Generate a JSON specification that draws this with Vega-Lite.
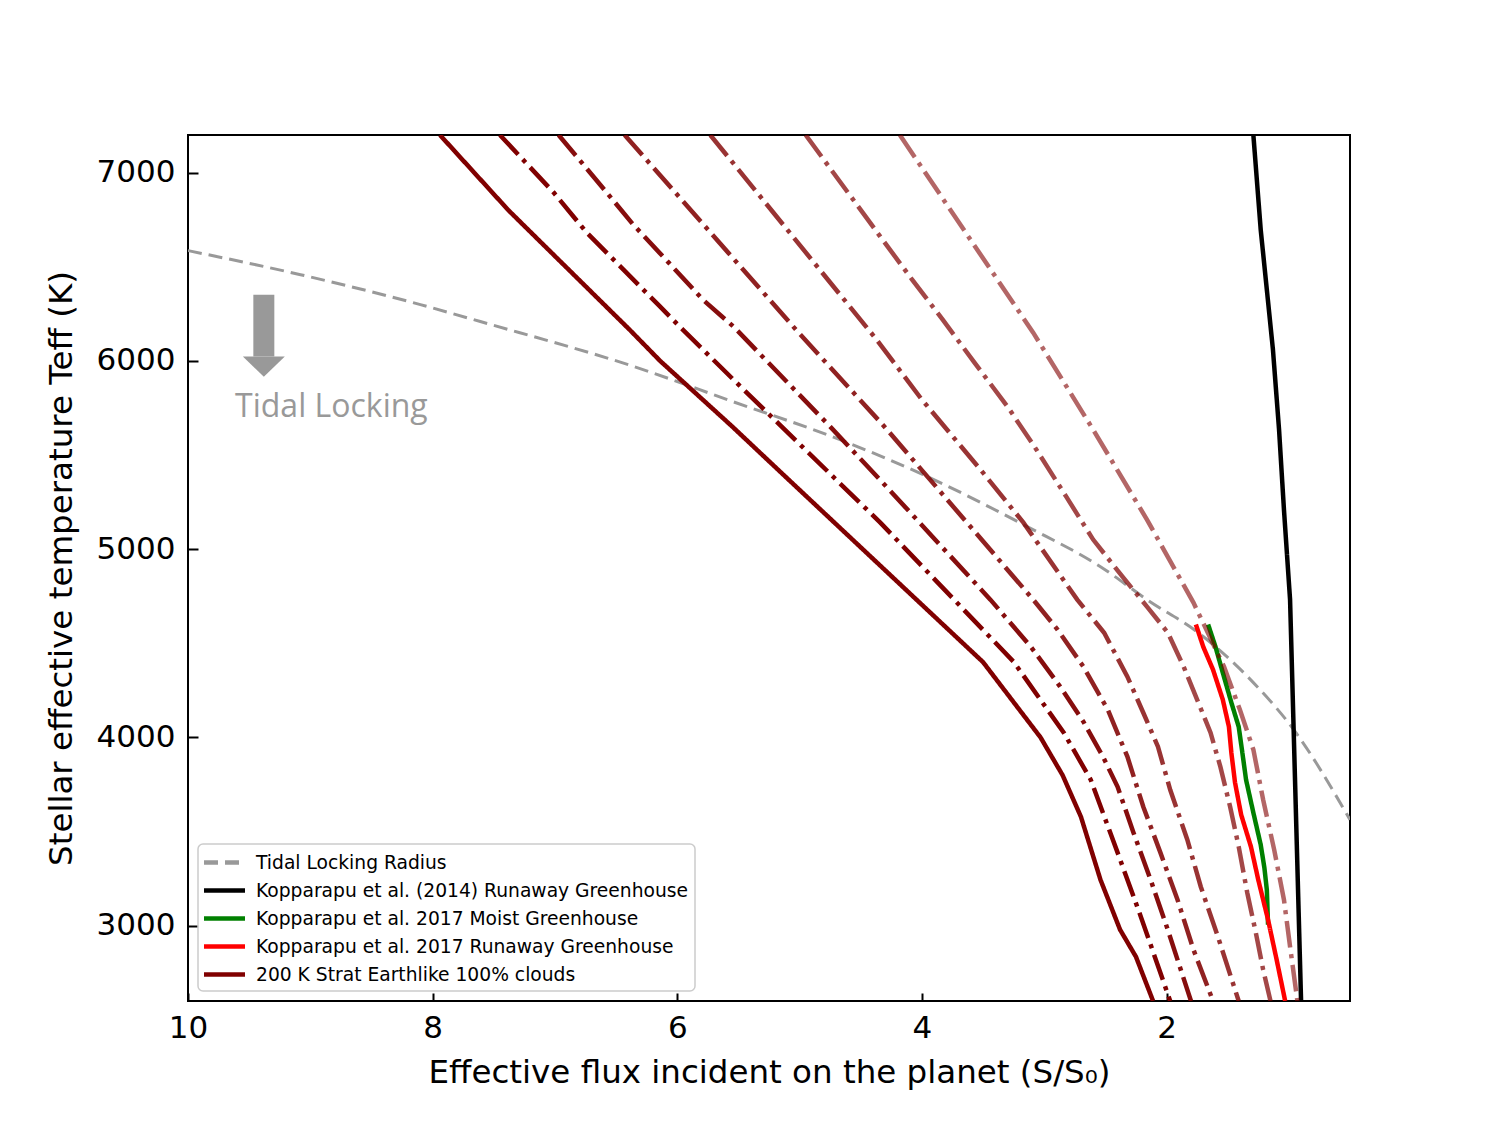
{
  "$schema": "https://vega.github.io/schema/vega-lite/v6.json",
  "width": 1162,
  "height": 866,
  "autosize": {"type": "none"},
  "padding": {"left": 188, "top": 135, "right": 150, "bottom": 124},
  "background": "white",
  "config": {
    "view": {"stroke": "black", "strokeWidth": 2},
    "font": "DejaVu Sans",
    "axis": {
      "grid": false, "domain": false, "tickColor": "black", "tickWidth": 2,
      "labelFont": "DejaVu Sans", "labelFontSize": 31, "labelColor": "black",
      "titleFont": "DejaVu Sans", "titleFontSize": 32.5, "titleFontWeight": "normal", "titleColor": "black"
    },
    "legend": {
      "orient": "bottom-left", "offset": 10, "padding": 6,
      "strokeColor": "#cccccc", "strokeWidth": 1.5, "fillColor": "rgba(255,255,255,0.8)", "cornerRadius": 5,
      "labelFont": "DejaVu Sans", "labelFontSize": 18.7, "labelColor": "black", "labelLimit": 600,
      "symbolType": "M-2,0L2,0", "symbolSize": 420, "symbolStrokeWidth": 4.5, "symbolOffset": 8,
      "labelOffset": 19, "rowPadding": 5
    }
  },
  "datasets": {
    "curves": [
      {"series": "Tidal Locking Radius", "i": 0, "flux": 10.0, "teff": 6586},
      {"series": "Tidal Locking Radius", "i": 1, "flux": 9.08, "teff": 6458},
      {"series": "Tidal Locking Radius", "i": 2, "flux": 8.10, "teff": 6299},
      {"series": "Tidal Locking Radius", "i": 3, "flux": 7.61, "teff": 6209},
      {"series": "Tidal Locking Radius", "i": 4, "flux": 6.28, "teff": 5954},
      {"series": "Tidal Locking Radius", "i": 5, "flux": 5.59, "teff": 5794},
      {"series": "Tidal Locking Radius", "i": 6, "flux": 4.67, "teff": 5582},
      {"series": "Tidal Locking Radius", "i": 7, "flux": 3.99, "teff": 5396},
      {"series": "Tidal Locking Radius", "i": 8, "flux": 3.14, "teff": 5120},
      {"series": "Tidal Locking Radius", "i": 9, "flux": 2.54, "teff": 4907},
      {"series": "Tidal Locking Radius", "i": 10, "flux": 2.16, "teff": 4732},
      {"series": "Tidal Locking Radius", "i": 11, "flux": 1.72, "teff": 4546},
      {"series": "Tidal Locking Radius", "i": 12, "flux": 1.29, "teff": 4291},
      {"series": "Tidal Locking Radius", "i": 13, "flux": 0.96, "teff": 4041},
      {"series": "Tidal Locking Radius", "i": 14, "flux": 0.50, "teff": 3563},

      {"series": "Kopparapu et al. (2014) Runaway Greenhouse", "i": 0, "flux": 1.29, "teff": 7200},
      {"series": "Kopparapu et al. (2014) Runaway Greenhouse", "i": 1, "flux": 1.23, "teff": 6697},
      {"series": "Kopparapu et al. (2014) Runaway Greenhouse", "i": 2, "flux": 1.18, "teff": 6379},
      {"series": "Kopparapu et al. (2014) Runaway Greenhouse", "i": 3, "flux": 1.13, "teff": 6060},
      {"series": "Kopparapu et al. (2014) Runaway Greenhouse", "i": 4, "flux": 1.08, "teff": 5635},
      {"series": "Kopparapu et al. (2014) Runaway Greenhouse", "i": 5, "flux": 1.04, "teff": 5210},
      {"series": "Kopparapu et al. (2014) Runaway Greenhouse", "i": 6, "flux": 0.99, "teff": 4732},
      {"series": "Kopparapu et al. (2014) Runaway Greenhouse", "i": 7, "flux": 0.96, "teff": 4025},
      {"series": "Kopparapu et al. (2014) Runaway Greenhouse", "i": 8, "flux": 0.93, "teff": 3313},
      {"series": "Kopparapu et al. (2014) Runaway Greenhouse", "i": 9, "flux": 0.90, "teff": 2600},

      {"series": "Kopparapu et al. 2017 Moist Greenhouse", "i": 0, "flux": 1.66, "teff": 4600},
      {"series": "Kopparapu et al. 2017 Moist Greenhouse", "i": 1, "flux": 1.60, "teff": 4482},
      {"series": "Kopparapu et al. 2017 Moist Greenhouse", "i": 2, "flux": 1.54, "teff": 4344},
      {"series": "Kopparapu et al. 2017 Moist Greenhouse", "i": 3, "flux": 1.47, "teff": 4185},
      {"series": "Kopparapu et al. 2017 Moist Greenhouse", "i": 4, "flux": 1.41, "teff": 4057},
      {"series": "Kopparapu et al. 2017 Moist Greenhouse", "i": 5, "flux": 1.38, "teff": 3919},
      {"series": "Kopparapu et al. 2017 Moist Greenhouse", "i": 6, "flux": 1.35, "teff": 3776},
      {"series": "Kopparapu et al. 2017 Moist Greenhouse", "i": 7, "flux": 1.29, "teff": 3600},
      {"series": "Kopparapu et al. 2017 Moist Greenhouse", "i": 8, "flux": 1.23, "teff": 3430},
      {"series": "Kopparapu et al. 2017 Moist Greenhouse", "i": 9, "flux": 1.20, "teff": 3308},
      {"series": "Kopparapu et al. 2017 Moist Greenhouse", "i": 10, "flux": 1.18, "teff": 3191},
      {"series": "Kopparapu et al. 2017 Moist Greenhouse", "i": 11, "flux": 1.17, "teff": 3005},

      {"series": "Kopparapu et al. 2017 Runaway Greenhouse", "i": 0, "flux": 1.76, "teff": 4600},
      {"series": "Kopparapu et al. 2017 Runaway Greenhouse", "i": 1, "flux": 1.70, "teff": 4482},
      {"series": "Kopparapu et al. 2017 Runaway Greenhouse", "i": 2, "flux": 1.62, "teff": 4360},
      {"series": "Kopparapu et al. 2017 Runaway Greenhouse", "i": 3, "flux": 1.54, "teff": 4201},
      {"series": "Kopparapu et al. 2017 Runaway Greenhouse", "i": 4, "flux": 1.49, "teff": 4057},
      {"series": "Kopparapu et al. 2017 Runaway Greenhouse", "i": 5, "flux": 1.47, "teff": 3919},
      {"series": "Kopparapu et al. 2017 Runaway Greenhouse", "i": 6, "flux": 1.44, "teff": 3760},
      {"series": "Kopparapu et al. 2017 Runaway Greenhouse", "i": 7, "flux": 1.39, "teff": 3590},
      {"series": "Kopparapu et al. 2017 Runaway Greenhouse", "i": 8, "flux": 1.31, "teff": 3420},
      {"series": "Kopparapu et al. 2017 Runaway Greenhouse", "i": 9, "flux": 1.25, "teff": 3244},
      {"series": "Kopparapu et al. 2017 Runaway Greenhouse", "i": 10, "flux": 1.17, "teff": 3032},
      {"series": "Kopparapu et al. 2017 Runaway Greenhouse", "i": 11, "flux": 1.10, "teff": 2820},
      {"series": "Kopparapu et al. 2017 Runaway Greenhouse", "i": 12, "flux": 1.03, "teff": 2600},

      {"series": "200 K Strat Earthlike 100% clouds", "i": 0, "flux": 7.94, "teff": 7200},
      {"series": "200 K Strat Earthlike 100% clouds", "i": 1, "flux": 7.66, "teff": 7000},
      {"series": "200 K Strat Earthlike 100% clouds", "i": 2, "flux": 7.38, "teff": 6800},
      {"series": "200 K Strat Earthlike 100% clouds", "i": 3, "flux": 6.39, "teff": 6166},
      {"series": "200 K Strat Earthlike 100% clouds", "i": 4, "flux": 6.14, "teff": 6000},
      {"series": "200 K Strat Earthlike 100% clouds", "i": 5, "flux": 5.55, "teff": 5651},
      {"series": "200 K Strat Earthlike 100% clouds", "i": 6, "flux": 5.14, "teff": 5400},
      {"series": "200 K Strat Earthlike 100% clouds", "i": 7, "flux": 3.50, "teff": 4400},
      {"series": "200 K Strat Earthlike 100% clouds", "i": 8, "flux": 3.03, "teff": 4000},
      {"series": "200 K Strat Earthlike 100% clouds", "i": 9, "flux": 2.85, "teff": 3800},
      {"series": "200 K Strat Earthlike 100% clouds", "i": 10, "flux": 2.70, "teff": 3579},
      {"series": "200 K Strat Earthlike 100% clouds", "i": 11, "flux": 2.54, "teff": 3244},
      {"series": "200 K Strat Earthlike 100% clouds", "i": 12, "flux": 2.38, "teff": 2979},
      {"series": "200 K Strat Earthlike 100% clouds", "i": 13, "flux": 2.25, "teff": 2835},
      {"series": "200 K Strat Earthlike 100% clouds", "i": 14, "flux": 2.11, "teff": 2600}
    ],
    "strat": [
      {"curve": "L2", "i": 0, "flux": 7.45, "teff": 7200},
      {"curve": "L2", "i": 1, "flux": 7.30, "teff": 7096},
      {"curve": "L2", "i": 2, "flux": 7.01, "teff": 6894},
      {"curve": "L2", "i": 3, "flux": 6.74, "teff": 6681},
      {"curve": "L2", "i": 4, "flux": 6.44, "teff": 6485},
      {"curve": "L2", "i": 5, "flux": 6.14, "teff": 6288},
      {"curve": "L2", "i": 6, "flux": 5.98, "teff": 6182},
      {"curve": "L2", "i": 7, "flux": 5.54, "teff": 5900},
      {"curve": "L2", "i": 8, "flux": 5.18, "teff": 5672},
      {"curve": "L2", "i": 9, "flux": 4.34, "teff": 5141},
      {"curve": "L2", "i": 10, "flux": 3.25, "teff": 4402},
      {"curve": "L2", "i": 11, "flux": 2.84, "teff": 4025},
      {"curve": "L2", "i": 12, "flux": 2.62, "teff": 3776},
      {"curve": "L2", "i": 13, "flux": 2.40, "teff": 3388},
      {"curve": "L2", "i": 14, "flux": 2.21, "teff": 3048},
      {"curve": "L2", "i": 15, "flux": 1.97, "teff": 2600},

      {"curve": "L3", "i": 0, "flux": 6.97, "teff": 7200},
      {"curve": "L3", "i": 1, "flux": 6.63, "teff": 6936},
      {"curve": "L3", "i": 2, "flux": 6.36, "teff": 6724},
      {"curve": "L3", "i": 3, "flux": 6.07, "teff": 6522},
      {"curve": "L3", "i": 4, "flux": 5.79, "teff": 6325},
      {"curve": "L3", "i": 5, "flux": 5.54, "teff": 6182},
      {"curve": "L3", "i": 6, "flux": 4.75, "teff": 5651},
      {"curve": "L3", "i": 7, "flux": 4.29, "teff": 5332},
      {"curve": "L3", "i": 8, "flux": 3.44, "teff": 4732},
      {"curve": "L3", "i": 9, "flux": 3.11, "teff": 4482},
      {"curve": "L3", "i": 10, "flux": 2.87, "teff": 4270},
      {"curve": "L3", "i": 11, "flux": 2.68, "teff": 4084},
      {"curve": "L3", "i": 12, "flux": 2.52, "teff": 3898},
      {"curve": "L3", "i": 13, "flux": 2.40, "teff": 3738},
      {"curve": "L3", "i": 14, "flux": 2.27, "teff": 3494},
      {"curve": "L3", "i": 15, "flux": 2.13, "teff": 3244},
      {"curve": "L3", "i": 16, "flux": 1.99, "teff": 2979},
      {"curve": "L3", "i": 17, "flux": 1.80, "teff": 2600},

      {"curve": "L4", "i": 0, "flux": 6.43, "teff": 7200},
      {"curve": "L4", "i": 1, "flux": 5.03, "teff": 6166},
      {"curve": "L4", "i": 2, "flux": 4.32, "teff": 5661},
      {"curve": "L4", "i": 3, "flux": 3.09, "teff": 4732},
      {"curve": "L4", "i": 4, "flux": 2.89, "teff": 4572},
      {"curve": "L4", "i": 5, "flux": 2.68, "teff": 4376},
      {"curve": "L4", "i": 6, "flux": 2.48, "teff": 4147},
      {"curve": "L4", "i": 7, "flux": 2.32, "teff": 3898},
      {"curve": "L4", "i": 8, "flux": 2.19, "teff": 3632},
      {"curve": "L4", "i": 9, "flux": 2.05, "teff": 3388},
      {"curve": "L4", "i": 10, "flux": 1.91, "teff": 3138},
      {"curve": "L4", "i": 11, "flux": 1.78, "teff": 2873},
      {"curve": "L4", "i": 12, "flux": 1.62, "teff": 2600},

      {"curve": "L5", "i": 0, "flux": 5.73, "teff": 7200},
      {"curve": "L5", "i": 1, "flux": 4.37, "teff": 6113},
      {"curve": "L5", "i": 2, "flux": 4.00, "teff": 5794},
      {"curve": "L5", "i": 3, "flux": 3.52, "teff": 5422},
      {"curve": "L5", "i": 4, "flux": 3.17, "teff": 5141},
      {"curve": "L5", "i": 5, "flux": 2.73, "teff": 4732},
      {"curve": "L5", "i": 6, "flux": 2.51, "teff": 4556},
      {"curve": "L5", "i": 7, "flux": 2.32, "teff": 4323},
      {"curve": "L5", "i": 8, "flux": 2.19, "teff": 4131},
      {"curve": "L5", "i": 9, "flux": 2.07, "teff": 3951},
      {"curve": "L5", "i": 10, "flux": 1.97, "teff": 3722},
      {"curve": "L5", "i": 11, "flux": 1.83, "teff": 3457},
      {"curve": "L5", "i": 12, "flux": 1.72, "teff": 3207},
      {"curve": "L5", "i": 13, "flux": 1.58, "teff": 2942},
      {"curve": "L5", "i": 14, "flux": 1.41, "teff": 2600},

      {"curve": "L6", "i": 0, "flux": 4.95, "teff": 7200},
      {"curve": "L6", "i": 1, "flux": 4.34, "teff": 6660},
      {"curve": "L6", "i": 2, "flux": 4.08, "teff": 6432},
      {"curve": "L6", "i": 3, "flux": 3.83, "teff": 6219},
      {"curve": "L6", "i": 4, "flux": 3.57, "teff": 5991},
      {"curve": "L6", "i": 5, "flux": 3.30, "teff": 5757},
      {"curve": "L6", "i": 6, "flux": 3.08, "teff": 5545},
      {"curve": "L6", "i": 7, "flux": 2.82, "teff": 5279},
      {"curve": "L6", "i": 8, "flux": 2.60, "teff": 5051},
      {"curve": "L6", "i": 9, "flux": 2.36, "teff": 4854},
      {"curve": "L6", "i": 10, "flux": 2.16, "teff": 4695},
      {"curve": "L6", "i": 11, "flux": 1.99, "teff": 4557},
      {"curve": "L6", "i": 12, "flux": 1.86, "teff": 4376},
      {"curve": "L6", "i": 13, "flux": 1.75, "teff": 4201},
      {"curve": "L6", "i": 14, "flux": 1.64, "teff": 4025},
      {"curve": "L6", "i": 15, "flux": 1.56, "teff": 3845},
      {"curve": "L6", "i": 16, "flux": 1.48, "teff": 3632},
      {"curve": "L6", "i": 17, "flux": 1.41, "teff": 3420},
      {"curve": "L6", "i": 18, "flux": 1.34, "teff": 3175},
      {"curve": "L6", "i": 19, "flux": 1.27, "teff": 2963},
      {"curve": "L6", "i": 20, "flux": 1.21, "teff": 2766},
      {"curve": "L6", "i": 21, "flux": 1.15, "teff": 2600},

      {"curve": "L7", "i": 0, "flux": 4.18, "teff": 7200},
      {"curve": "L7", "i": 1, "flux": 3.09, "teff": 6150},
      {"curve": "L7", "i": 2, "flux": 2.60, "teff": 5635},
      {"curve": "L7", "i": 3, "flux": 2.16, "teff": 5157},
      {"curve": "L7", "i": 4, "flux": 1.78, "teff": 4716},
      {"curve": "L7", "i": 5, "flux": 1.53, "teff": 4376},
      {"curve": "L7", "i": 6, "flux": 1.40, "teff": 4147},
      {"curve": "L7", "i": 7, "flux": 1.29, "teff": 3935},
      {"curve": "L7", "i": 8, "flux": 1.21, "teff": 3669},
      {"curve": "L7", "i": 9, "flux": 1.12, "teff": 3404},
      {"curve": "L7", "i": 10, "flux": 1.04, "teff": 3138},
      {"curve": "L7", "i": 11, "flux": 0.99, "teff": 2889},
      {"curve": "L7", "i": 12, "flux": 0.93, "teff": 2600}
    ],
    "arrow": [{"flux": 9.38, "teff": 6352, "teff2": 6024}],
    "head": [{"flux": 9.38, "teff": 6024}],
    "note": [{"flux": 9.615, "teff": 5704, "label": "Tidal Locking"}]
  },
  "encoding": {
    "x": {
      "field": "flux", "type": "quantitative",
      "scale": {"domain": [0.5, 10], "reverse": true, "nice": false, "zero": false},
      "axis": {"values": [2, 4, 6, 8, 10], "tickSize": -8, "labelPadding": 20, "labelFlush": false, "titlePadding": 13,
               "title": "Effective flux incident on the planet (S/S₀)"}
    },
    "y": {
      "field": "teff", "type": "quantitative",
      "scale": {"domain": [2600, 7200], "nice": false, "zero": false},
      "axis": {"values": [3000, 4000, 5000, 6000, 7000], "format": "d", "tickSize": -10, "labelPadding": 23, "titlePadding": 18,
               "title": "Stellar effective temperature Teff (K)"}
    }
  },
  "layer": [
    {
      "data": {"name": "curves"},
      "transform": [{"filter": "datum.series === 'Tidal Locking Radius'"}],
      "mark": {"type": "line", "interpolate": "monotone", "clip": true, "strokeWidth": 3},
      "encoding": {
        "color": {"field": "series", "type": "nominal", "title": null,
          "scale": {"domain": ["Tidal Locking Radius", "Kopparapu et al. (2014) Runaway Greenhouse", "Kopparapu et al. 2017 Moist Greenhouse", "Kopparapu et al. 2017 Runaway Greenhouse", "200 K Strat Earthlike 100% clouds"],
                    "range": ["#999999", "#000000", "#008000", "#ff0000", "#800000"]}},
        "strokeDash": {"field": "series", "type": "nominal", "title": null,
          "scale": {"domain": ["Tidal Locking Radius", "Kopparapu et al. (2014) Runaway Greenhouse", "Kopparapu et al. 2017 Moist Greenhouse", "Kopparapu et al. 2017 Runaway Greenhouse", "200 K Strat Earthlike 100% clouds"],
                    "range": [[14, 7], [1, 0], [1, 0], [1, 0], [1, 0]]}},
        "order": {"field": "i", "type": "quantitative"}
      }
    },
    {
      "data": {"name": "curves"},
      "transform": [{"filter": "datum.series !== 'Tidal Locking Radius'"}],
      "mark": {"type": "line", "clip": true, "strokeWidth": 4.5},
      "encoding": {
        "color": {"field": "series", "type": "nominal", "title": null},
        "strokeDash": {"field": "series", "type": "nominal", "title": null},
        "order": {"field": "i", "type": "quantitative"}
      }
    },
    {
      "data": {"name": "strat"},
      "mark": {"type": "line", "clip": true, "strokeWidth": 4.5, "strokeDash": [26.7, 6.7, 4.2, 6.7]},
      "encoding": {
        "stroke": {"field": "curve", "type": "nominal", "legend": null,
          "scale": {"domain": ["L2", "L3", "L4", "L5", "L6", "L7"],
                    "range": ["rgba(128,0,0,1)", "rgba(128,0,0,0.95)", "rgba(128,0,0,0.87)", "rgba(128,0,0,0.8)", "rgba(128,0,0,0.72)", "rgba(128,0,0,0.6)"]}},
        "order": {"field": "i", "type": "quantitative"}
      }
    },
    {
      "data": {"name": "arrow"},
      "mark": {"type": "rule", "color": "#999999", "strokeWidth": 21, "strokeCap": "butt"},
      "encoding": {"y2": {"field": "teff2"}}
    },
    {
      "data": {"name": "head"},
      "mark": {"type": "point", "shape": "M-1,0L1,0L0,0.97Z", "size": 1764, "filled": true, "color": "#999999", "opacity": 1, "strokeWidth": 0},
      "encoding": {}
    },
    {
      "data": {"name": "note"},
      "mark": {"type": "text", "align": "left", "baseline": "alphabetic", "font": "Open Sans", "fontSize": 32, "color": "#999999"},
      "encoding": {"text": {"field": "label"}}
    }
  ]
}
